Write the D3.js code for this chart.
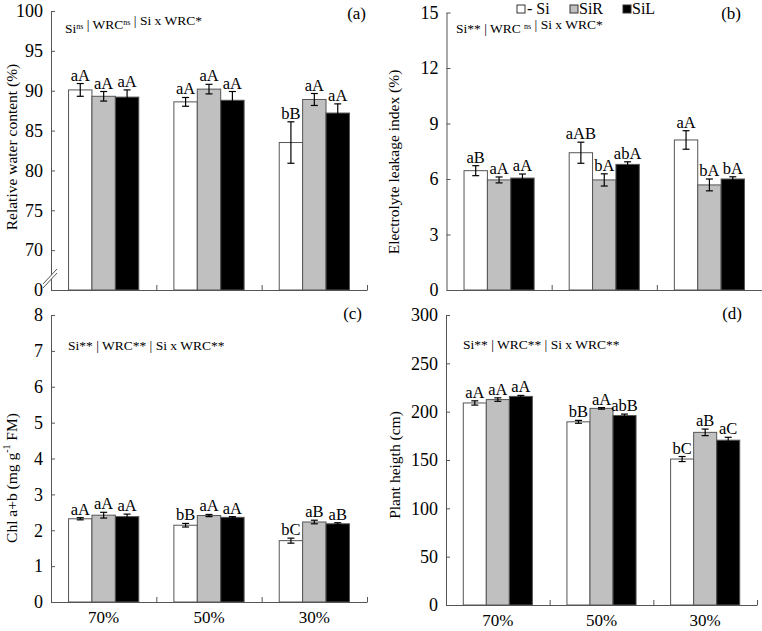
<html>
<head>
<meta charset="utf-8">
<title>Si x WRC</title>
<style>
    body {
        margin: 0;
        padding: 0;
        background: #ffffff;
    }
    svg {
        font-family: "Liberation Serif", "Times New Roman", serif;
    }
    .tick text {
        font-family: "Liberation Serif", serif;
        font-size: 18px;
        fill: #000;
    }
    .cat .tick text {
        font-size: 17px;
    }
    .domain, .tick line {
        stroke: #555;
        stroke-width: 1;
    }
    .bar {
        stroke: #555;
        stroke-width: 1;
    }
</style>
</head>
<body>
<svg width="762" height="631"></svg>
<script src="https://d3js.org/d3.v7.min.js"></script>
<script>
    // categorie e serie
    var groups = ["70%", "50%", "30%"];
    var series = ["- Si", "SiR", "SiL"];
    var colours = ["#ffffff", "#c0c0c0", "#000000"];

    // (a) relative water content, ordine: 70% (-Si, SiR, SiL), 50%, 30%
    var rwcMean = [90.1, 89.3, 89.2, 88.6, 90.2, 88.8, 83.5, 88.9, 87.2];
    var rwcErr = [0.8, 0.6, 0.9, 0.55, 0.6, 1.1, 2.6, 0.75, 1.15];
    var rwcLetters = ["aA", "aA", "aA", "aA", "aA", "aA", "bB", "aA", "aA"];
    var rwcTicks = [65, 70, 75, 80, 85, 90, 95, 100];

    // (b) electrolyte leakage
    var elMean = [6.45, 5.95, 6.05, 7.42, 5.95, 6.79, 8.11, 5.68, 6.0];
    var elErr = [0.27, 0.16, 0.22, 0.57, 0.33, 0.14, 0.5, 0.32, 0.12];
    var elLetters = ["aB", "aA", "aA", "aAB", "bA", "abA", "aA", "bA", "bA"];
    var elTicks = [0, 3, 6, 9, 12, 15];

    // (c) chl a+b
    var chlMean = [2.32, 2.42, 2.38, 2.14, 2.41, 2.36, 1.71, 2.23, 2.18];
    var chlErr = [0.03, 0.08, 0.07, 0.05, 0.03, 0.02, 0.07, 0.05, 0.03];
    var chlLetters = ["aA", "aA", "aA", "bB", "aA", "aA", "bC", "aB", "aB"];
    var chlTicks = [0, 1, 2, 3, 4, 5, 6, 7, 8];

    // (d) plant height
    var phMean = [209, 212.5, 215.8, 189.5, 203.4, 196, 151, 178.6, 170.5];
    var phErr = [2.2, 1.8, 1.0, 1.5, 0.8, 1.5, 2.6, 3.4, 3.0];
    var phLetters = ["aA", "aA", "aA", "bB", "aA", "abB", "bC", "aB", "aC"];
    var phTicks = [0, 50, 100, 150, 200, 250, 300];

    var svg = d3.select("svg");

    var panels = [
        { mean: rwcMean, err: rwcErr, letters: rwcLetters, ticks: rwcTicks, domain: [65, 100],
          x0: 51, x1: 367, top: 11, bottom: 290, label: "(a)", labelX: 366, labelY: 19,
          title: "Relative water content (%)", titleX: 11, titleY: 147,
          stats: [["Si", "ns"], [" | WRC", "ns"], [" | Si x WRC*", ""]], statsX: 65, statsY: 33, brk: true },
        { mean: elMean, err: elErr, letters: elLetters, ticks: elTicks, domain: [0, 15],
          x0: 446.5, x1: 762, top: 12.5, bottom: 290, label: "(b)", labelX: 741, labelY: 19,
          title: "Electrolyte leakage index (%)", titleX: 393, titleY: 162,
          stats: [["Si** | WRC ", "ns"], [" | Si x WRC*", ""]], statsX: 456, statsY: 33 },
        { mean: chlMean, err: chlErr, letters: chlLetters, ticks: chlTicks, domain: [0, 8],
          x0: 51, x1: 367, top: 315, bottom: 602, label: "(c)", labelX: 362, labelY: 319,
          title: "chl", titleX: 11, titleY: 478,
          stats: [["Si** | WRC** | Si x WRC**", ""]], statsX: 68, statsY: 350, cats: true },
        { mean: phMean, err: phErr, letters: phLetters, ticks: phTicks, domain: [0, 300],
          x0: 446, x1: 757, top: 315, bottom: 605, label: "(d)", labelX: 742, labelY: 319,
          title: "Plant heigth (cm)", titleX: 394, titleY: 465,
          stats: [["Si** | WRC** | Si x WRC**", ""]], statsX: 463, statsY: 349, cats: true }
    ];

    panels.forEach(drawPanel);

    function drawPanel(p) {
        var g = svg.append("g");

        var x = d3.scaleBand().domain(groups).range([p.x0, p.x1]).padding(0);
        var xs = d3.scaleBand().domain(series).range([0, x.bandwidth()]).paddingInner(0).paddingOuter(0.75);
        var y = d3.scaleLinear().domain(p.domain).range([p.bottom, p.top]);

        var data = [];
        groups.forEach(function(gr, i) {
            series.forEach(function(s, j) {
                var k = i * 3 + j;
                data.push({ group: gr, serie: s, col: colours[j], mean: p.mean[k], err: p.err[k], letter: p.letters[k] });
            });
        });

        // barre
        g.selectAll(".bar")
            .data(data)
            .enter()
            .append("rect")
            .attr("class", "bar")
            .attr("x", function(d) { return x(d.group) + xs(d.serie); })
            .attr("y", function(d) { return y(d.mean); })
            .attr("width", xs.bandwidth())
            .attr("height", function(d) { return p.bottom - y(d.mean); })
            .style("fill", function(d) { return d.col; });

        // barre di errore
        var eb = g.selectAll(".err")
            .data(data)
            .enter()
            .append("g")
            .attr("class", "err")
            .attr("transform", function(d) { return "translate(" + (x(d.group) + xs(d.serie) + xs.bandwidth() / 2) + ",0)"; });
        eb.append("line")
            .attr("y1", function(d) { return y(d.mean - d.err); })
            .attr("y2", function(d) { return y(d.mean + d.err); })
            .style("stroke", "#000")
            .style("stroke-width", 1.2);
        [-1, 1].forEach(function(sgn) {
            eb.append("line")
                .attr("x1", -3.5).attr("x2", 3.5)
                .attr("y1", function(d) { return y(d.mean + sgn * d.err); })
                .attr("y2", function(d) { return y(d.mean + sgn * d.err); })
                .style("stroke", "#000")
                .style("stroke-width", 1.2);
        });

        // lettere
        g.selectAll(".letter")
            .data(data)
            .enter()
            .append("text")
            .attr("x", function(d) { return x(d.group) + xs(d.serie) + xs.bandwidth() / 2; })
            .attr("y", function(d) { return y(d.mean + d.err) - 3; })
            .attr("text-anchor", "middle")
            .style("font-size", "16.5px")
            .text(function(d) { return d.letter; });

        // asse y
        var yAxis = d3.axisLeft(y)
            .tickValues(p.ticks)
            .tickSizeInner(-4)
            .tickSizeOuter(0)
            .tickPadding(8)
            .tickFormat(function(d) { return (p.brk && d == 65) ? "0" : d; });
        g.append("g")
            .attr("transform", "translate(" + p.x0 + ",0)")
            .call(yAxis);

        // asse x: tacche ai confini delle categorie
        var xb = d3.scaleLinear().domain([0, 3]).range([p.x0, p.x1]);
        g.append("g")
            .attr("transform", "translate(0," + p.bottom + ")")
            .call(d3.axisBottom(xb).tickValues([1, 2, 3]).tickSizeInner(-5).tickSizeOuter(0).tickFormat(""));

        if (p.cats) {
            var cat = g.append("g")
                .attr("class", "cat")
                .attr("transform", "translate(0," + p.bottom + ")")
                .call(d3.axisBottom(x).tickSize(0).tickPadding(9));
            cat.select(".domain").remove();
        }

        // interruzione asse
        if (p.brk) {
            var yb = p.bottom - 16;
            g.append("polygon")
                .attr("points", [[p.x0 - 8, yb + 10], [p.x0 + 6, yb - 5], [p.x0 + 6, yb - 1], [p.x0 - 8, yb + 14]].join(" "))
                .style("fill", "#fff");
            [0, 4].forEach(function(o) {
                g.append("line")
                    .attr("x1", p.x0 - 8).attr("y1", yb + 10 + o)
                    .attr("x2", p.x0 + 6).attr("y2", yb - 5 + o)
                    .style("stroke", "#555");
            });
        }

        // etichetta pannello
        g.append("text")
            .attr("x", p.labelX)
            .attr("y", p.labelY)
            .attr("text-anchor", "end")
            .style("font-size", "17px")
            .text(p.label);

        // statistiche
        var st = g.append("text")
            .attr("x", p.statsX)
            .attr("y", p.statsY)
            .style("font-size", "13.5px");
        p.stats.forEach(function(s) {
            st.append("tspan").text(s[0]);
            if (s[1]) {
                st.append("tspan").attr("dy", -4).style("font-size", "8px").text(s[1]);
                st.append("tspan").attr("dy", 4).text("");
            }
        });

        // titolo asse y
        var t = g.append("text")
            .attr("transform", "translate(" + p.titleX + "," + p.titleY + ") rotate(-90)")
            .attr("text-anchor", "middle")
            .attr("dominant-baseline", "central")
            .style("font-size", "15.5px");
        if (p.title == "chl") {
            t.append("tspan").text("Chl a+b (mg g");
            t.append("tspan").attr("dy", -5).style("font-size", "10px").text("-1");
            t.append("tspan").attr("dy", 5).text(" FM)");
        } else {
            t.text(p.title);
        }
    }

    // legenda
    var leg = svg.append("g").attr("transform", "translate(517,0)");
    var legX = [0, 53, 106];
    series.forEach(function(s, i) {
        leg.append("rect")
            .attr("x", legX[i]).attr("y", 5)
            .attr("width", 8).attr("height", 8)
            .style("fill", colours[i])
            .style("stroke", "#333");
        leg.append("text")
            .attr("x", legX[i] + (i == 0 ? 10 : 9))
            .attr("y", 14)
            .style("font-size", "16px")
            .text(s);
    });
</script>
</body>
</html>
